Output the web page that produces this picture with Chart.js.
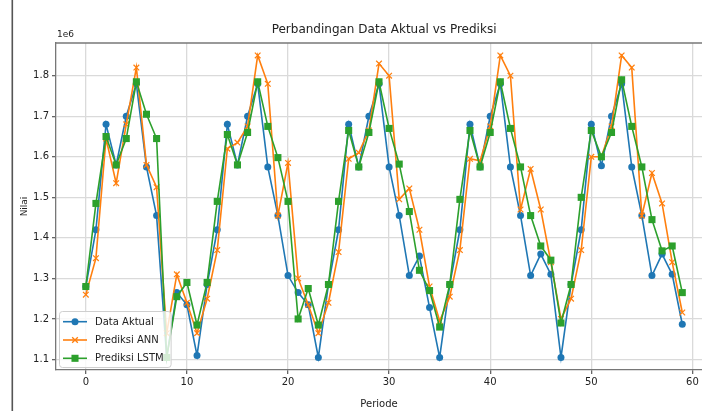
<!DOCTYPE html>
<html>
<head>
<meta charset="utf-8">
<script src="https://cdn.jsdelivr.net/npm/chart.js@4.4.1/dist/chart.umd.min.js"></script>
<style>
  html, body { margin: 0; padding: 0; background: #fff; }
  #wrap { width: 702px; height: 411px; position: relative; }
</style>
</head>
<body>
<div id="wrap"><canvas id="chart" width="702" height="411"></canvas></div>
<script>
// Periods 0..59
const periode = [0, 1, 2, 3, 4, 5, 6, 7, 8, 9, 10, 11, 12, 13, 14, 15, 16, 17, 18, 19,
  20, 21, 22, 23, 24, 25, 26, 27, 28, 29, 30, 31, 32, 33, 34, 35, 36, 37, 38, 39,
  40, 41, 42, 43, 44, 45, 46, 47, 48, 49, 50, 51, 52, 53, 54, 55, 56, 57, 58, 59];

const dataAktual = [
  1280000, 1420000, 1680000, 1580000, 1700000, 1780000, 1575000, 1455000, 1105000, 1265000,
  1235000, 1110000, 1285000, 1420000, 1680000, 1580000, 1700000, 1780000, 1575000, 1455000,
  1307000, 1265000, 1235000, 1105000, 1285000, 1420000, 1680000, 1575000, 1700000, 1780000,
  1575000, 1455000, 1307000, 1355000, 1228000, 1105000, 1285000, 1420000, 1680000, 1575000,
  1700000, 1780000, 1575000, 1455000, 1307000, 1360000, 1310000, 1105000, 1285000, 1420000,
  1680000, 1578000, 1700000, 1780000, 1575000, 1455000, 1307000, 1360000, 1310000, 1187000
];

const prediksiANN = [
  1260000, 1350000, 1645000, 1535000, 1680000, 1820000, 1580000, 1525000, 1165000, 1310000,
  1240000, 1165000, 1250000, 1370000, 1620000, 1635000, 1675000, 1850000, 1780000, 1455000,
  1585000, 1300000, 1235000, 1165000, 1240000, 1365000, 1595000, 1610000, 1665000, 1830000,
  1800000, 1495000, 1522000, 1420000, 1280000, 1195000, 1255000, 1370000, 1595000, 1590000,
  1675000, 1850000, 1800000, 1470000, 1570000, 1470000, 1340000, 1200000, 1250000, 1370000,
  1600000, 1600000, 1675000, 1850000, 1820000, 1455000, 1560000, 1485000, 1340000, 1216000
];

const prediksiLSTM = [
  1280000, 1485000, 1650000, 1580000, 1645000, 1785000, 1705000, 1645000, 1105000, 1255000,
  1290000, 1185000, 1290000, 1490000, 1655000, 1580000, 1660000, 1785000, 1675000, 1598000,
  1490000, 1200000, 1275000, 1185000, 1285000, 1490000, 1665000, 1575000, 1660000, 1785000,
  1670000, 1582000, 1465000, 1320000, 1270000, 1180000, 1285000, 1495000, 1665000, 1575000,
  1660000, 1785000, 1670000, 1575000, 1455000, 1380000, 1345000, 1190000, 1285000, 1500000,
  1665000, 1600000, 1660000, 1790000, 1675000, 1575000, 1445000, 1368000, 1380000, 1265000
];

const xTicks = [0, 10, 20, 30, 40, 50, 60];
const yTicks = [1100000, 1200000, 1300000, 1400000, 1500000, 1600000, 1700000, 1800000];

const FONT = 'DejaVu Sans';
const TEXT = '#222';
Chart.defaults.font.family = FONT;

const toPoints = vals => vals.map((v, i) => ({ x: periode[i], y: v }));

function drawMarker(ctx, style, x, y, r, color) {
  ctx.fillStyle = color;
  ctx.strokeStyle = color;
  ctx.beginPath();
  if (style === 'circle') {
    ctx.arc(x, y, r, 0, Math.PI * 2);
    ctx.fill();
  } else if (style === 'rect') {
    const s = r * Math.SQRT1_2;
    ctx.rect(x - s, y - s, 2 * s, 2 * s);
    ctx.fill();
  } else {
    const s = r * Math.SQRT1_2;
    ctx.lineWidth = 1.3;
    ctx.moveTo(x - s, y - s); ctx.lineTo(x + s, y + s);
    ctx.moveTo(x - s, y + s); ctx.lineTo(x + s, y - s);
    ctx.stroke();
  }
}

const extras = {
  id: 'extras',
  beforeDraw(chart) {
    const ctx = chart.ctx;
    ctx.save();
    ctx.fillStyle = '#fff';
    ctx.fillRect(0, 0, chart.width, chart.height);
    // dark edge line from the screenshot
    ctx.fillStyle = '#555';
    ctx.fillRect(11.5, 0, 1.6, chart.height);
    ctx.restore();
  },
  afterDatasetsDraw(chart) {
    const { ctx, chartArea: a } = chart;
    const sets = chart.data.datasets;
    ctx.save();
    // legend, lower left
    ctx.font = '10px "' + FONT + '"';
    let tw = 0;
    sets.forEach(d => { tw = Math.max(tw, ctx.measureText(d.label).width); });
    const bx = a.left + 3, by = 311, bw = 38 + tw + 5, bh = 56;
    ctx.fillStyle = 'rgba(255,255,255,0.8)';
    ctx.strokeStyle = '#cfcfcf';
    ctx.lineWidth = 1;
    ctx.beginPath();
    ctx.roundRect(bx + 0.5, by + 0.5, bw, bh, 3);
    ctx.fill();
    ctx.stroke();
    sets.forEach((d, i) => {
      const y = 321.7 + i * 18.3;
      ctx.strokeStyle = d.borderColor;
      ctx.lineWidth = d.borderWidth;
      ctx.beginPath();
      ctx.moveTo(bx + 4, y); ctx.lineTo(bx + 28, y);
      ctx.stroke();
      drawMarker(ctx, d.pointStyle, bx + 16, y, d.pointRadius, d.borderColor);
      ctx.fillStyle = TEXT;
      ctx.textAlign = 'left';
      ctx.textBaseline = 'middle';
      ctx.fillText(d.label, bx + 36, y + 0.5);
    });
    ctx.restore();
  },
  afterDraw(chart) {
    const { ctx, chartArea: a, scales } = chart;
    ctx.save();
    // top spine
    ctx.strokeStyle = '#777';
    ctx.lineWidth = 1.3;
    ctx.beginPath();
    ctx.moveTo(a.left, a.top); ctx.lineTo(a.right, a.top);
    ctx.stroke();
    // title centred over the full (cropped) axes
    ctx.fillStyle = TEXT;
    ctx.font = '12px "' + FONT + '"';
    ctx.textAlign = 'center';
    ctx.textBaseline = 'middle';
    ctx.fillText('Perbandingan Data Aktual vs Prediksi', scales.x.getPixelForValue(29.5), 30);
    // offset text
    ctx.font = '9px "' + FONT + '"';
    ctx.textAlign = 'left';
    ctx.fillText('1e6', a.left + 1, 35);
    ctx.restore();
  }
};

new Chart(document.getElementById('chart'), {
  type: 'line',
  data: {
    datasets: [
      {
        label: 'Data Aktual', data: toPoints(dataAktual), order: 3,
        borderColor: '#1f77b4', backgroundColor: '#1f77b4', borderWidth: 1.6,
        pointStyle: 'circle', pointRadius: 3.5, pointBorderWidth: 0, tension: 0
      },
      {
        label: 'Prediksi ANN', data: toPoints(prediksiANN), order: 2,
        borderColor: '#ff7f0e', backgroundColor: '#ff7f0e', borderWidth: 1.6,
        pointStyle: 'crossRot', pointRadius: 4, pointBorderWidth: 1.2, tension: 0
      },
      {
        label: 'Prediksi LSTM', data: toPoints(prediksiLSTM), order: 1,
        borderColor: '#2ca02c', backgroundColor: '#2ca02c', borderWidth: 1.6,
        pointStyle: 'rect', pointRadius: 5, pointBorderWidth: 0, tension: 0
      }
    ]
  },
  options: {
    responsive: false,
    animation: false,
    layout: { autoPadding: false, padding: { top: 43, right: 0, bottom: 0, left: 0 } },
    plugins: { legend: { display: false }, tooltip: { enabled: false }, title: { display: false } },
    scales: {
      x: {
        type: 'linear', min: -2.95, max: 60.95,
        afterFit: s => { s.height = 41; s.paddingLeft = 0; s.paddingRight = 0; },
        afterBuildTicks: s => { s.ticks = xTicks.map(v => ({ value: v })); },
        ticks: { font: { size: 10 }, color: TEXT, padding: 2, maxRotation: 0 },
        grid: { color: '#dadada', lineWidth: 1.3, tickLength: 4, tickColor: '#666' },
        border: { color: '#777', width: 1.3 },
        title: { display: true, text: 'Periode', font: { size: 10 }, color: TEXT, padding: { top: 0, bottom: 1 } }
      },
      y: {
        min: 1074100, max: 1880700,
        afterFit: s => { s.width = 56; s.paddingTop = 0; s.paddingBottom = 0; },
        afterBuildTicks: s => { s.ticks = yTicks.map(v => ({ value: v })); },
        ticks: { font: { size: 10 }, color: TEXT, padding: 3, callback: v => (v / 1e6).toFixed(1) },
        grid: { color: '#dadada', lineWidth: 1.3, tickLength: 4, tickColor: '#666' },
        border: { color: '#777', width: 1.3 },
        title: { display: true, text: 'Nilai', font: { size: 9 }, color: TEXT, padding: { top: 19, bottom: 0 } }
      }
    }
  },
  plugins: [extras]
});
</script>
</body>
</html>
